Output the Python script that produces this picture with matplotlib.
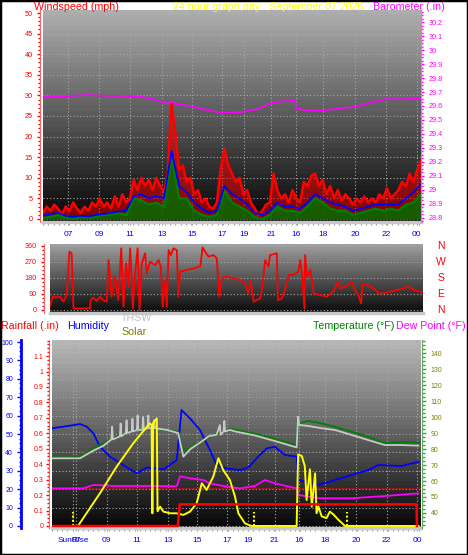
import numpy as np
import matplotlib
matplotlib.use('Agg')
import matplotlib.pyplot as plt
from matplotlib.ticker import FixedLocator, MultipleLocator, FuncFormatter
from matplotlib.patches import Rectangle
import matplotlib.transforms as mtransforms

plt.rcParams['font.family'] = ['Liberation Sans', 'DejaVu Sans']

# ---------------- data ----------------
hour_ticks = [6.6, 14.8, 23.0, 31.5, 39.4, 47.4, 53.2, 60.3, 66.9, 74.1, 82.5, 90.7, 98.9]
hour_labels = ['07', '09', '11', '13', '15', '17', '19', '21', '16', '18', '20', '22', '00']
sunrise_tick = 5.7
sun_events = [5.6, 54.7, 79.9]

# wind (mph), one sample per time unit (0..100)
gust = [1.5, 3, 2, 3.5, 2.5, 1, 3, 2, 4, 2.5,
        1.5, 3, 2, 4, 3, 5, 3, 4, 2.5, 5.5,
        3, 6, 4, 5, 9.5, 7, 10, 8, 9.5, 7,
        10, 8, 6.5, 11, 28, 21, 12, 13, 9, 10,
        6, 7, 4, 5, 3, 2.5, 4, 12, 17, 13,
        11, 9, 10, 6, 7, 4, 2.5, 1, 2, 3.5,
        4, 11, 7, 5, 6, 4, 7, 5, 4, 9,
        8, 10.5, 11, 8, 9.5, 6, 8, 5, 7, 4.5,
        6, 5, 3.5, 5, 4, 5.5, 4, 5, 4, 6,
        5, 7.5, 5, 6, 7, 9, 8, 11, 9, 12, 14]
# average / low wind, one sample per two time units
wind_avg = [0.8, 1.2, 1.5, 0.8, 0.5, 0.8, 0.6, 1.0, 1.2, 1.5,
            1.8, 2.0, 5.5, 6.0, 5.0, 5.5, 5.0, 16.5, 8.0, 6.5,
            4.0, 2.5, 1.5, 2.0, 8.0, 6.0, 5.0, 3.5, 1.5, 1.0,
            2.0, 4.0, 3.0, 3.0, 2.5, 4.0, 6.0, 5.0, 4.0, 3.5,
            3.0, 2.0, 2.5, 3.0, 3.5, 3.5, 3.5, 3.5, 5.0, 6.5, 8.5]
wind_low = [0.3, 0.5, 1.0, 0.3, 0.0, 0.5, 0.3, 0.5, 1.0, 1.0,
            1.5, 1.0, 5.0, 4.5, 3.5, 4.0, 3.0, 15.0, 5.0, 5.0,
            2.0, 1.0, 0.5, 1.0, 7.0, 4.0, 3.0, 2.0, 0.5, 0.0,
            1.0, 3.0, 2.0, 2.0, 1.5, 3.0, 5.0, 4.0, 2.5, 2.0,
            2.0, 1.0, 1.5, 2.0, 2.5, 2.0, 2.5, 2.0, 3.5, 4.0, 6.0]

baro_t = [0.1, 6.7, 11.6, 14.9, 23.0, 25.7, 29.2, 32.7, 34.5, 35.4, 38.9, 43.3, 47.3, 52.1,
          56.5, 60.9, 64.5, 66.7, 67.0, 69.8, 74.2, 78.6, 83.0, 87.4, 90.9, 95.3, 99.7]
baro = [29.667, 29.671, 29.679, 29.674, 29.671, 29.667, 29.650, 29.619, 29.631, 29.614, 29.600,
        29.571, 29.552, 29.555, 29.576, 29.624, 29.636, 29.643, 29.583, 29.567, 29.567, 29.583,
        29.595, 29.631, 29.650, 29.648, 29.655]

wind_dir = [(0, 22), (0.7, 75), (1.5, 70), (2.7, 75), (3.6, 47), (4.5, 84), (5.2, 328), (5.8, 319),
            (6.3, 9), (10.7, 9), (10.9, 56), (11.6, 70), (12.5, 50), (13.4, 75), (14.3, 55),
            (15.2, 47), (15.7, 281), (16.5, 75), (17.4, 187), (18.3, 56), (19.1, 347), (19.7, 19),
            (20.4, 262), (21.0, 131), (21.5, 347), (22.2, 9), (22.8, 206), (23.5, 347), (24.0, 0),
            (24.6, 262), (25.5, 319), (25.9, 206), (26.8, 272), (28.2, 253), (29.1, 281),
            (29.7, 244), (30.2, 19), (30.9, 169), (31.3, 19), (31.8, 337), (32.4, 309), (33.1, 347),
            (34.0, 337), (34.4, 75), (34.9, 216), (36.7, 225), (38.5, 234), (40.3, 247), (40.9, 352),
            (41.6, 328), (42.5, 300), (43.8, 309), (44.7, 291), (45.4, 75), (46.1, 178), (47.4, 187),
            (49.2, 178), (51.0, 169), (52.3, 150), (53.2, 94), (53.8, 169), (54.6, 47), (56.4, 66),
            (56.8, 112), (57.7, 281), (58.6, 244), (59.0, 309), (60.8, 319), (61.1, 56), (62.2, 66),
            (63.1, 122), (64.0, 197), (65.3, 197), (66.6, 216), (67.1, 281), (67.7, 169), (68.2, 9),
            (68.4, 309), (68.9, 187), (69.8, 225), (70.7, 94), (72.5, 84), (74.2, 75), (76.0, 103),
            (77.2, 159), (77.8, 122), (79.2, 131), (80.9, 159), (81.8, 112), (82.7, 84), (83.4, 37),
            (83.8, 141), (85.0, 141), (86.8, 122), (88.1, 94), (89.4, 94), (91.2, 103), (93.0, 112),
            (94.8, 122), (96.2, 131), (97.5, 112), (99.3, 103), (100, 100)]
dir_t = [p[0] for p in wind_dir]
dir_deg = [p[1] for p in wind_dir]

temp_t = [0, 7.6, 11.2, 13.9, 17.5, 22.0, 26.6, 31.1, 34.2, 35.6, 40.1, 44.6, 48.2, 49.6,
          55.0, 60.4, 66.3, 66.7, 69.5, 73.1, 76.7, 81.2, 85.7, 90.2, 94.7, 99.3]
temp = [74.8, 74.8, 80.4, 83.5, 87.7, 91.9, 92.9, 91.9, 90.8, 78.3, 84.5, 89.6, 92.7, 92.1,
        89.6, 86.5, 82.3, 96.0, 97.6, 96.0, 93.9, 90.8, 87.7, 83.5, 84.5, 83.9]

thsw_t = [0, 7.6, 11.2, 13.9, 16.1, 16.3, 16.5, 17.5, 18.4, 18.6, 18.8, 20.0, 20.2, 20.4, 21.6,
          21.8, 22.0, 23.0, 23.2, 23.4, 24.5, 24.7, 24.9, 25.9, 26.1, 26.3, 27.5, 27.7, 27.9,
          31.1, 34.2, 35.6, 37.5, 40.1, 42.5, 44.6, 45.5, 45.7, 46.5, 46.7, 46.9, 48.2, 49.6,
          55.0, 60.4, 66.3, 66.7, 67.0, 67.2, 69.5, 73.1, 76.7, 81.2, 85.7, 90.2, 94.7, 99.3]
thsw = [74.2, 74.2, 79, 82, 86, 94, 86, 87, 88, 96, 88, 90, 98, 90, 91,
        99, 91, 92, 101, 92, 92, 100, 92, 93, 101, 93, 93, 98, 93,
        92, 90, 75.2, 80, 84, 88, 89, 95, 89, 91, 97.6, 91, 92, 91,
        88.5, 85, 81, 100.2, 95, 95, 94.4, 93, 91.9, 88.8, 85.6, 82.5, 82.5, 82.1]

hum_t = [0, 3.1, 7.6, 9.4, 11.2, 13.0, 15.7, 19.3, 23.0, 25.7, 30.2, 33.8, 35.1, 37.4, 40.1,
         42.8, 44.6, 47.3, 50.9, 53.2, 55.9, 58.2, 60.4, 63.1, 66.3, 66.7, 72.2, 76.7, 81.2,
         85.7, 88.4, 94.7, 99.3]
hum = [53.1, 54.0, 55.4, 54.0, 50.4, 43.1, 37.7, 33.1, 28.6, 31.8, 30.8, 35.8, 63.0, 58.5, 52.2,
       41.3, 33.1, 31.3, 30.4, 31.8, 37.7, 42.2, 43.1, 38.6, 37.7, 25.0, 22.3, 25.0, 27.7,
       30.4, 33.1, 32.6, 34.9]

dew_t = [0, 8.5, 11.2, 17.5, 26.6, 33.8, 34.7, 37.4, 41.0, 42.8, 46.4, 50.9, 55.0, 57.7,
         60.4, 66.3, 66.7, 72.2, 81.2, 90.2, 99.3]
dew = [55.4, 55.4, 57.5, 56.9, 56.9, 56.7, 62.9, 61.7, 60.6, 58.5, 56.9, 55.4, 56.9, 60.6,
       58.5, 55.4, 51.3, 49.2, 49.2, 50.6, 52.3]
dew_ref = 55.4

solar_t = [0, 6.7, 7.1, 13.0, 17.5, 22.0, 26.5, 27.0, 27.2, 27.4, 28.4, 28.6, 29.3, 30.2, 32.0,
           33.8, 35.6, 37.4, 39.2, 40.6, 41.9, 43.7, 45.1, 46.4, 48.2, 49.6, 50.5, 52.3, 54.1,
           66.3, 66.7, 67.7, 68.5, 69.0, 69.9, 70.4, 71.3, 71.7, 72.2, 73.1, 74.4, 75.3, 76.3,
           77.6, 79.4, 99.3]
solar = [0, 0, 2, 178, 322, 449, 558, 549, 69, 560, 585, 80, 105, 78, 69,
         69, 60, 78, 123, 232, 196, 268, 368, 304, 250, 159, 69, 14, 0,
         0, 389, 380, 326, 141, 308, 105, 286, 69, 105, 52, 43, 78, 62,
         34, 0, 0]

rain_t = [0, 34.1, 34.6, 98.8, 98.9]
rain = [0, 0, 0.14, 0.14, 0]

# ---------------- figure ----------------
W, H = 468, 555
fig = plt.figure(figsize=(W / 100, H / 100), dpi=100)
fig.patch.set_facecolor('white')


def add_ax(l, t, r, b):
    return fig.add_axes([l / W, 1 - b / H, (r - l) / W, (b - t) / H])


def gradient_bg(ax, top, bottom, steps=40):
    v = np.linspace(bottom, top, steps).reshape(-1, 1)
    ax.imshow(v, extent=[0, 1, 0, 1], transform=ax.transAxes, origin='lower',
              aspect='auto', cmap='gray', vmin=0, vmax=1, zorder=0,
              interpolation='nearest')


DOT = (0, (1, 1))
GRID = dict(color='#a8a8a8', linestyle=(0, (1, 2)), linewidth=0.8)
fmt = FuncFormatter(lambda v, p: f'{round(v, 2):g}')


def xaxis_style(ax, labels_on=True, ticks=None, labels=None):
    ax.set_xlim(0, 100)
    ax.xaxis.set_major_locator(FixedLocator(ticks if ticks else hour_ticks))
    if labels_on:
        ax.set_xticklabels(labels if labels else hour_labels)
    else:
        ax.set_xticklabels([])
    ax.xaxis.set_minor_locator(MultipleLocator(1.4))
    ax.tick_params(axis='x', which='both', color='#a0a0a0', labelcolor='#0000ff',
                   labelsize=6, length=2.5, pad=4, width=0.8)
    ax.tick_params(axis='x', which='minor', length=1.8)
    ax.spines['bottom'].set_color('#c8c8c8')
    ax.spines['bottom'].set_linewidth(2.5)
    ax.spines['top'].set_visible(False)


# ---- top panel : wind speed & barometer ----
ax1 = add_ax(43, 10, 421, 222)
gradient_bg(ax1, 0.68, 0.02)
ax1.set_ylim(-0.73, 50.73)
xaxis_style(ax1)
ax1.yaxis.set_major_locator(MultipleLocator(5))
ax1.yaxis.set_minor_locator(MultipleLocator(1))
ax1.tick_params(axis='y', which='both', colors='#ff0000', labelsize=5.2, length=2.5, width=1, pad=3)
ax1.tick_params(axis='y', which='minor', length=1.5)
ax1.spines['left'].set_position(('outward', 2))
ax1.spines['left'].set_color('#ff6060')
ax1.spines['left'].set_linestyle(DOT)
ax1.spines['right'].set_visible(False)
ax1.grid(True, **GRID)
gust_t = np.arange(len(gust))
avg_t = np.arange(len(wind_avg)) * 2
ax1.fill_between(gust_t, 0, gust, color='#ff0000', alpha=0.5, lw=0, zorder=2)
ax1.plot(gust_t, gust, color='#ff0000', lw=1.8, zorder=3)
ax1.fill_between(avg_t, 0, wind_low, color='#007000', alpha=0.82, lw=0, zorder=3.5)
ax1.plot(avg_t, wind_low, color='#008000', lw=1.6, zorder=4)
ax1.plot(avg_t, wind_avg, color='#0000ff', lw=1.3, zorder=5)

axb = ax1.twinx()
axb.set_ylim(28.771, 30.286)
axb.set_xlim(0, 100)
axb.set_yticks(np.round(np.arange(28.8, 30.21, 0.1), 1))
axb.yaxis.set_major_formatter(fmt)
axb.yaxis.set_minor_locator(MultipleLocator(0.025))
axb.tick_params(axis='y', which='both', colors='#ff00ff', labelsize=5.2, length=2.5, width=1, pad=3)
axb.tick_params(axis='y', which='minor', length=1.5)
for s in ['left', 'top', 'bottom']:
    axb.spines[s].set_visible(False)
axb.spines['right'].set_color('#ff60ff')
axb.spines['right'].set_linestyle(DOT)
axb.plot(baro_t, baro, color='#ff00ff', lw=1.2)

# ---- middle panel : wind direction ----
ax2 = add_ax(50, 244, 423, 313)
gradient_bg(ax2, 0.62, 0.04)
ax2.set_ylim(-16.9, 371.25)
xaxis_style(ax2, labels_on=False)
ax2.tick_params(axis='x', which='both', length=0)
ax2.set_yticks([0, 90, 180, 270, 360])
ax2.yaxis.set_minor_locator(MultipleLocator(22.5))
ax2.tick_params(axis='y', which='both', colors='#ff0000', labelsize=5.2, length=2.5, width=1, pad=3)
ax2.tick_params(axis='y', which='minor', length=1.5)
ax2.spines['left'].set_position(('outward', 4))
ax2.spines['left'].set_color('#ff6060')
ax2.spines['left'].set_linestyle(DOT)
ax2.spines['right'].set_visible(False)
ax2.grid(True, axis='y', **GRID)
ax2.plot(dir_t, dir_deg, color='#ff0000', lw=1.3, zorder=3)
trans2 = mtransforms.blended_transform_factory(ax2.transAxes, ax2.transData)
for letter, deg in zip(['N', 'W', 'S', 'E', 'N'], [360, 270, 180, 90, 0]):
    ax2.text(1.048, deg, letter, transform=trans2, color='#ff0000', fontsize=7.5,
             ha='center', va='center', clip_on=False)

# ---- bottom panel ----
ax3 = add_ax(52, 340, 421, 528)
gradient_bg(ax3, 0.72, 0.03)
ax3.set_ylim(-1.09, 101.09)
xaxis_style(ax3, ticks=[sunrise_tick] + hour_ticks, labels=['SunRise'] + hour_labels)
ax3.yaxis.set_major_locator(MultipleLocator(10))
ax3.yaxis.set_minor_locator(MultipleLocator(2.5))
ax3.tick_params(axis='y', which='both', colors='#0000ff', labelsize=5, length=3, width=1, pad=3)
ax3.tick_params(axis='y', which='minor', length=1.8)
ax3.spines['left'].set_position(('outward', 22))
ax3.spines['left'].set_color('#0000ff')
ax3.spines['left'].set_linewidth(2)
ax3.spines['right'].set_visible(False)
ax3.grid(True, **GRID)
ax3.plot(hum_t, hum, color='#0000ff', lw=1.3, zorder=3)

ax3t = ax3.twinx()
ax3t.set_xlim(0, 100)
ax3t.set_ylim(30.6, 148.2)
ax3t.set_yticks(list(range(40, 141, 10)))
ax3t.yaxis.set_minor_locator(MultipleLocator(2.5))
ax3t.tick_params(axis='y', which='both', color='#40a040', labelcolor='#808000', labelsize=5,
                 length=3, width=1, pad=3)
ax3t.tick_params(axis='y', which='minor', length=1.8)
for s in ['left', 'top', 'bottom']:
    ax3t.spines[s].set_visible(False)
ax3t.spines['right'].set_position(('outward', 1))
ax3t.spines['right'].set_color('#60b060')
ax3t.spines['right'].set_linestyle(DOT)
ax3t.axhline(dew_ref, color='#8b1a1a', lw=1)
ax3t.plot(dew_t, dew, color='#ff00ff', lw=1.3)
ax3t.plot(temp_t, temp, color='#008000', lw=1.3)
ax3t.plot(thsw_t, thsw, color='#c8c8c8', lw=1.3)

ax3s = ax3.twinx()
ax3s.set_xlim(0, 100)
ax3s.set_ylim(-11, 1011)
ax3s.axis('off')
for xe in sun_events:
    ax3s.axvline(xe, ymin=0.01, ymax=0.085, color='#ffff00', linestyle=DOT, lw=1.5)
ax3s.plot(solar_t, solar, color='#ffff00', lw=1.4)

ax3r = ax3.twinx()
ax3r.set_xlim(0, 100)
ax3r.set_ylim(-0.013, 1.204)
ax3r.yaxis.tick_left()
ax3r.set_yticks(np.round(np.arange(0, 1.11, 0.1), 1))
ax3r.yaxis.set_major_formatter(fmt)
ax3r.yaxis.set_minor_locator(MultipleLocator(0.025))
ax3r.tick_params(axis='y', which='both', colors='#ff0000', labelsize=5, length=2.5, width=1, pad=1.5)
ax3r.tick_params(axis='y', which='minor', length=1.5)
for s in ['right', 'top', 'bottom']:
    ax3r.spines[s].set_visible(False)
ax3r.spines['left'].set_visible(True)
ax3r.spines['left'].set_position(('outward', 2))
ax3r.spines['left'].set_color('#ff6060')
ax3r.spines['left'].set_linestyle(DOT)
ax3r.plot(rain_t, rain, color='#ff0000', lw=1.8)

# ---- header / legend texts ----
def ftext(x, y, s, color, size=7.7, ha='left'):
    fig.text(x / W, 1 - y / H, s, color=color, fontsize=size, ha=ha, va='center')


ftext(34, 7, 'Windspeed (mph)', '#ff0000')
ftext(173, 7, '24 hour graph day : September 07 2026', '#ffff00')
ftext(373, 7, 'Barometer (.in)', '#ff00ff')
ftext(1, 326, 'Rainfall (.in)', '#ff0000')
ftext(67, 326, 'Humidity', '#0000ff')
ftext(121, 318, 'THSW', '#c0c0c0')
ftext(121, 332, 'Solar', '#808000')
ftext(313, 326, 'Temperature (°F)', '#008000')
ftext(396, 326, 'Dew Point (°F)', '#ff00ff')

fig.patches.append(Rectangle((0, 0), 1, 1, transform=fig.transFigure, fill=False,
                             edgecolor='black', linewidth=2.5))

fig.savefig('out.png', dpi=100)
